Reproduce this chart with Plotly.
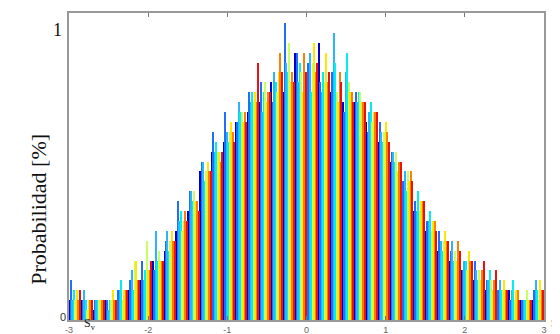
import plotly.graph_objects as go

# Bin centres (value axis) and counts per series (out of 30 = probability 1)
bins = [-2.925, -2.775, -2.625, -2.475, -2.325, -2.175, -2.025, -1.875, -1.725, -1.575,
        -1.425, -1.275, -1.125, -0.975, -0.825, -0.675, -0.525, -0.375, -0.225, -0.075,
        0.075, 0.225, 0.375, 0.525, 0.675, 0.825, 0.975, 1.125, 1.275, 1.425,
        1.575, 1.725, 1.875, 2.025, 2.175, 2.325, 2.475, 2.625, 2.775, 2.925]

s1 = [2, 2, 1, 2, 2, 3, 4, 6, 7, 9, 11, 15, 17, 18, 20, 21, 22, 24, 23, 27, 24, 28, 23, 22, 22, 20, 18, 16, 13, 11, 9, 7, 6, 5, 4, 3, 2, 3, 2, 2]
s2 = [4, 2, 2, 2, 3, 4, 6, 5, 8, 12, 13, 16, 19, 21, 20, 23, 24, 22, 30, 27, 26, 24, 25, 21, 23, 19, 20, 17, 14, 12, 10, 9, 7, 5, 6, 4, 3, 2, 2, 3]
s3 = [2, 3, 2, 1, 3, 5, 4, 9, 9, 10, 13, 16, 17, 19, 22, 22, 21, 25, 26, 24, 27, 23, 29, 25, 22, 21, 19, 17, 15, 11, 10, 8, 8, 6, 5, 4, 4, 3, 2, 4]
s4 = [3, 2, 2, 2, 4, 3, 5, 6, 7, 11, 12, 14, 18, 18, 21, 23, 23, 24, 25, 26, 23, 25, 26, 27, 23, 22, 18, 16, 13, 13, 11, 7, 6, 6, 4, 5, 3, 4, 2, 3]
s5 = [2, 1, 2, 2, 2, 6, 8, 7, 8, 9, 13, 15, 17, 19, 21, 22, 24, 23, 28, 25, 26, 24, 23, 24, 23, 20, 19, 17, 15, 11, 9, 8, 7, 5, 5, 4, 3, 2, 3, 2]
s6 = [3, 2, 2, 3, 3, 6, 5, 6, 9, 10, 12, 16, 17, 20, 20, 23, 22, 25, 24, 23, 28, 27, 22, 23, 22, 21, 20, 15, 14, 12, 10, 9, 6, 7, 4, 3, 4, 3, 2, 4]
s7 = [2, 2, 2, 2, 3, 4, 5, 6, 8, 11, 12, 15, 16, 19, 21, 22, 23, 27, 25, 27, 25, 24, 25, 23, 22, 21, 19, 16, 15, 12, 10, 8, 8, 6, 5, 4, 3, 3, 2, 3]
s8 = [3, 2, 2, 2, 3, 4, 6, 6, 8, 10, 11, 15, 17, 18, 20, 26, 23, 25, 24, 25, 26, 25, 24, 22, 22, 21, 18, 16, 14, 12, 9, 8, 7, 6, 6, 5, 3, 2, 2, 3]

series = [s1, s2, s3, s4, s5, s6, s7, s8]
colors = ["#0000c8", "#1f6fff", "#29b6ff", "#00f0f0", "#c8ff60", "#ffe800", "#ff8000", "#ee1010"]

x_tick_vals = [-3, -2, -1, 0, 1, 2, 3]
x_tick_text = ["-3", "-2", "-1", "0", "1", "2", "3"]
y_label = "Probabilidad [%]"

fig = go.Figure()
for vals, col in zip(series, colors):
    fig.add_trace(go.Bar(x=bins, y=vals, marker=dict(color=col, line=dict(width=0)),
                         showlegend=False))

serif = "Liberation Serif"
# page body has an 8px margin: figure spans 8..560 x 8..334
fig.update_layout(
    width=552, height=326,
    margin=dict(l=61, r=16, t=5, b=14),
    paper_bgcolor="white", plot_bgcolor="white",
    barmode="group", bargap=0.0, bargroupgap=0,
    xaxis=dict(range=[-3, 3], tickvals=x_tick_vals, ticktext=x_tick_text,
               tickfont=dict(family="Liberation Sans", size=9, color="#666"),
               showgrid=False, zeroline=False, showline=True, linecolor="#999",
               linewidth=1.5, mirror="allticks", ticks="inside", ticklen=4,
               tickcolor="#777", automargin=False),
    yaxis=dict(range=[0, 31], tickvals=[0, 31], showticklabels=False,
               showgrid=False, zeroline=False, showline=True, linecolor="#999",
               linewidth=1.5, mirror="allticks", ticks="inside", ticklen=4,
               tickcolor="#777", automargin=False),
    annotations=[
        dict(text=y_label, xref="paper", yref="paper", x=-0.095, y=0.36,
             textangle=-90, showarrow=False, font=dict(family=serif, size=22, color="#111")),
        dict(text="1", xref="paper", yref="y", x=-0.01, y=29.3, xanchor="right",
             showarrow=False, font=dict(family=serif, size=18, color="#111")),
        dict(text="0", xref="paper", yref="y", x=-0.002, y=0.3, xanchor="right",
             showarrow=False, font=dict(family="Liberation Sans", size=11, color="#333")),
        dict(text="S<sub>v</sub>", xref="x", yref="paper", x=-2.74, y=-0.013,
             yanchor="middle", showarrow=False, font=dict(family=serif, size=12, color="#222")),
        dict(text="S<sub>v</sub>", xref="paper", yref="paper", x=1.011, y=-0.013,
             xanchor="left", yanchor="middle", showarrow=False,
             font=dict(family=serif, size=12, color="#222")),
    ],
)

fig.write_html("out.html")
